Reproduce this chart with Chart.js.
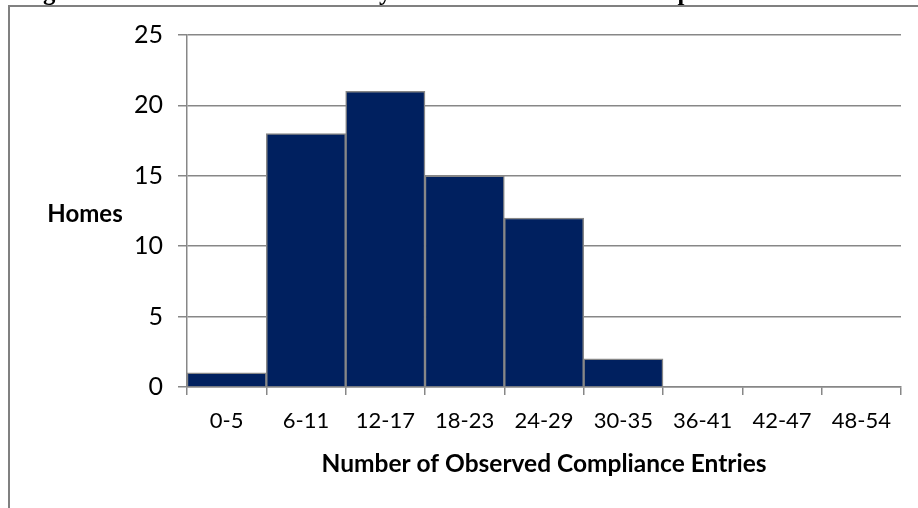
<!DOCTYPE html>
<html>
<head>
<meta charset="utf-8">
<script src="https://cdn.jsdelivr.net/npm/chart.js@4.4.1/dist/chart.umd.min.js"></script>
<style>
  html, body { margin: 0; padding: 0; background: #fff; }
  body { width: 918px; height: 508px; position: relative; overflow: hidden; }
  #chart { position: absolute; left: 0; top: 0; }
  #frame { position: absolute; left: 8px; top: 5px; width: 1000px; height: 600px;
           border-top: 2px solid #808080; border-left: 2px solid #808080; pointer-events: none; }
</style>
</head>
<body>
<canvas id="chart" width="918" height="508"></canvas>
<div id="frame"></div>
<script>
// Number of homes per bin of observed compliance entries
const binLabels = ['0-5', '6-11', '12-17', '18-23', '24-29', '30-35', '36-41', '42-47', '48-54'];
const homeCounts = [1, 18, 21, 15, 12, 2, 0, 0, 0];
const yTicks = [0, 5, 10, 15, 20, 25];

const caption = 'Figure 4: Distribution of Homes by Number of Observed Compliance Entries';
const xTitle = 'Number of Observed Compliance Entries';
const yTitle = 'Homes';

const GRID = '#878787';
const FONT = 'Lato, "Open Sans", sans-serif';

// page caption, cut off by the top edge; axis titles drawn as plain text
const textLayer = {
  id: 'textLayer',
  afterDraw(chart) {
    const { ctx, chartArea } = chart;
    ctx.save();
    ctx.fillStyle = '#000';

    // caption: only the lowest strip of the glyphs stays inside the page
    ctx.font = 'bold 22px "Liberation Serif", "Times New Roman", serif';
    const w = ctx.measureText(caption).width;
    const size = 22 * 816 / w;
    ctx.font = 'bold ' + size.toFixed(2) + 'px "Liberation Serif", "Times New Roman", serif';
    ctx.textAlign = 'left';
    ctx.textBaseline = 'alphabetic';
    ctx.fillText(caption, 21, 0);

    ctx.font = 'bold 24px ' + FONT;
    ctx.textAlign = 'center';
    ctx.textBaseline = 'middle';
    ctx.fillText(yTitle, 85, 214);
    ctx.font = 'bold 24.5px ' + FONT;
    ctx.fillText(xTitle, (chartArea.left + chartArea.right) / 2, 464);
    ctx.restore();
  }
};

new Chart(document.getElementById('chart'), {
  type: 'bar',
  data: {
    labels: binLabels,
    datasets: [{
      data: homeCounts,
      backgroundColor: '#00205F',
      borderColor: GRID,
      borderWidth: 1.5,
      barPercentage: 1,
      categoryPercentage: 1
    }]
  },
  options: {
    responsive: false,
    animation: false,
    devicePixelRatio: 1,
    layout: { padding: { left: 0, right: 17, top: 35, bottom: 0 } },
    plugins: { legend: { display: false }, tooltip: { enabled: false } },
    scales: {
      x: {
        offset: true,
        grid: { display: true, drawOnChartArea: false, drawTicks: true, tickLength: 8,
                color: GRID, lineWidth: 1.5, offset: true },
        border: { display: true, color: GRID, width: 1.5 },
        ticks: { color: '#000', font: { family: FONT, size: 22 }, padding: 13, maxRotation: 0 },
        afterFit(scale) { scale.height = 121; }
      },
      y: {
        min: 0,
        max: 25,
        afterBuildTicks(scale) { scale.ticks = yTicks.map(v => ({ value: v })); },
        grid: { color: GRID, lineWidth: 1.5, tickLength: 9 },
        border: { display: true, color: GRID, width: 1.5 },
        ticks: { color: '#000', font: { family: FONT, size: 25 }, padding: 15 },
        afterFit(scale) { scale.width = 187; }
      }
    }
  },
  plugins: [textLayer]
});
</script>
</body>
</html>
